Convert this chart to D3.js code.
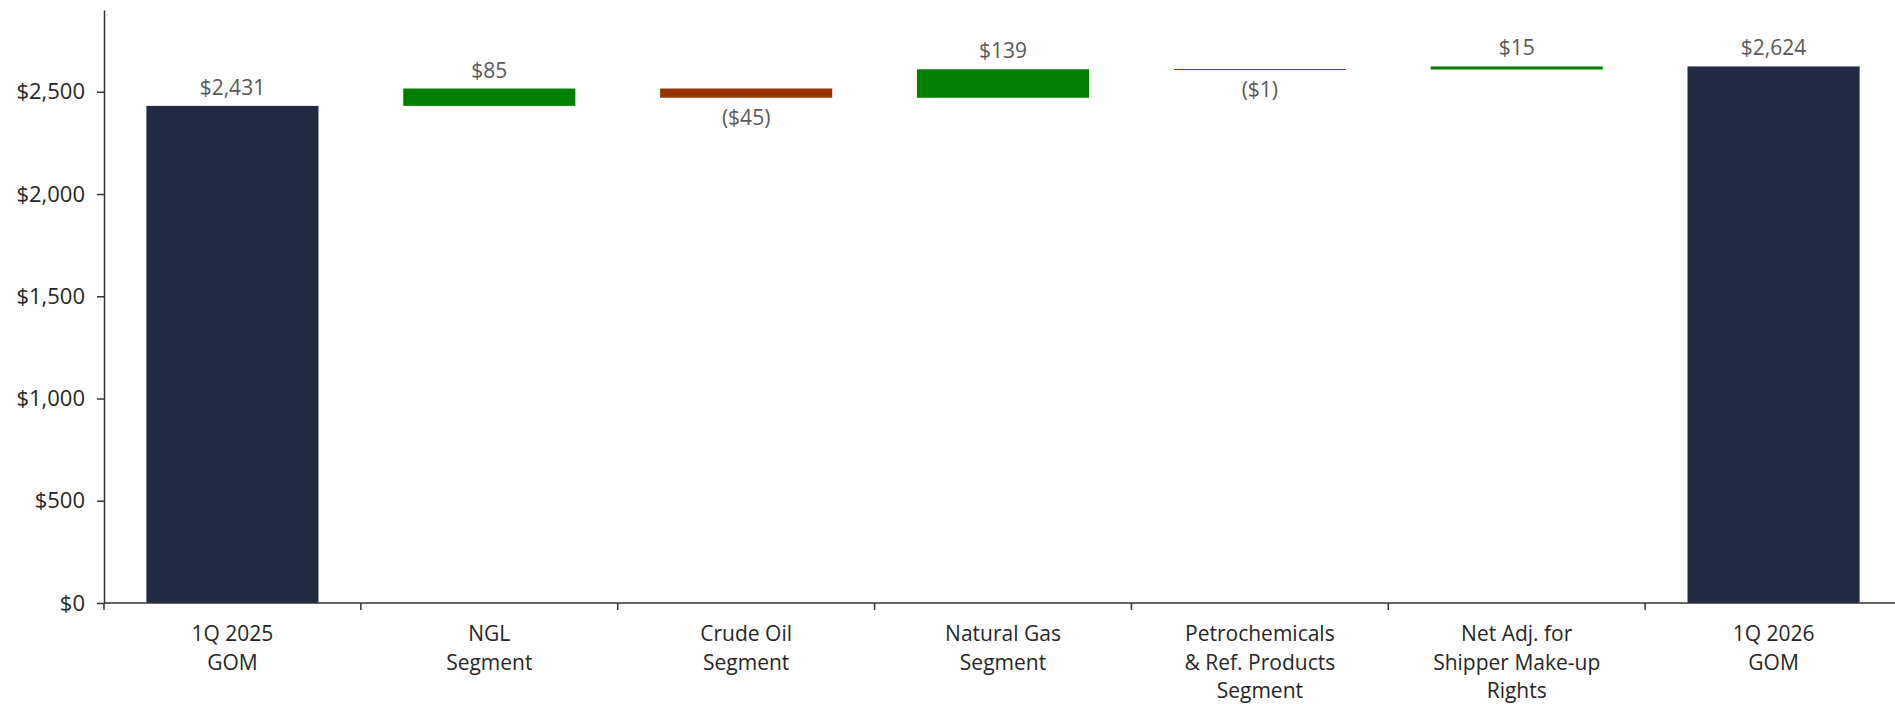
<!DOCTYPE html>
<html>
<head>
<meta charset="utf-8">
<script src="https://cdn.jsdelivr.net/npm/d3@7"></script>
<style>
  html, body { margin: 0; padding: 0; background: #ffffff; }
  svg { display: block; font-family: "Open Sans", "Liberation Sans", sans-serif; }
</style>
</head>
<body>
<svg id="chart" width="1895" height="704"></svg>
<script>
// Gross operating margin bridge, $ millions
const categories = [
  "1Q 2025\nGOM",
  "NGL\nSegment",
  "Crude Oil\nSegment",
  "Natural Gas\nSegment",
  "Petrochemicals\n& Ref. Products\nSegment",
  "Net Adj. for\nShipper Make-up\nRights",
  "1Q 2026\nGOM"
];
// "total" bars start at zero; "delta" bars float on the running total
const kinds  = ["total", "delta", "delta", "delta", "delta", "delta", "total"];
const values = [2431, 85, -45, 139, -1, 15, 2624];
const labels = ["$2,431", "$85", "($45)", "$139", "($1)", "$15", "$2,624"];
const yTicks = [0, 500, 1000, 1500, 2000, 2500];
const yMax = 2900;

const colors = { total: "#222a42", up: "#008000", down: "#993300" };

// running totals for the floating bars
let running = 0;
const bars = categories.map((c, i) => {
  let y0, y1;
  if (kinds[i] === "total") {
    y0 = 0; y1 = values[i]; running = values[i];
  } else {
    y0 = running; y1 = running + values[i]; running = y1;
  }
  const fill = kinds[i] === "total" ? colors.total : (values[i] >= 0 ? colors.up : colors.down);
  return { cat: c, y0, y1, value: values[i], label: labels[i], kind: kinds[i], fill };
});

const svg = d3.select("#chart");
const plotLeft = 104, plotRight = 1902, plotTop = 10, plotBottom = 603;

const x = d3.scaleBand()
  .domain(categories)
  .range([plotLeft, plotRight])
  .paddingInner(0.33)
  .paddingOuter(0.165);

const y = d3.scaleLinear()
  .domain([0, yMax])
  .range([plotBottom, plotTop]);

// bars (very small changes still get a hairline)
svg.append("g").selectAll("rect")
  .data(bars)
  .join("rect")
  .attr("x", d => x(d.cat))
  .attr("width", x.bandwidth())
  .attr("y", d => {
    const h = Math.abs(y(d.y0) - y(d.y1));
    return h < 1 ? Math.round(y(Math.max(d.y0, d.y1))) : y(Math.max(d.y0, d.y1));
  })
  .attr("height", d => Math.max(1, Math.abs(y(d.y0) - y(d.y1))))
  .attr("fill", d => d.fill);

// value labels: above rising bars, below falling bars
svg.append("g").selectAll("text")
  .data(bars)
  .join("text")
  .attr("x", d => x(d.cat) + x.bandwidth() / 2)
  .attr("y", d => d.value >= 0
    ? y(Math.max(d.y0, d.y1)) - 11
    : y(Math.min(d.y0, d.y1)) + 27)
  .attr("text-anchor", "middle")
  .attr("font-size", 21)
  .attr("fill", "#595959")
  .text(d => d.label);

// y axis
const yAxis = svg.append("g")
  .attr("transform", `translate(${plotLeft},0)`)
  .call(d3.axisLeft(y)
    .tickValues(yTicks)
    .tickSize(7)
    .tickSizeOuter(0)
    .tickPadding(12)
    .tickFormat(d => "$" + d3.format(",")(d)));
yAxis.select(".domain").attr("stroke", "#333").attr("stroke-width", 1.5);
yAxis.selectAll(".tick line").attr("stroke", "#333").attr("stroke-width", 1.5);
yAxis.selectAll(".tick text")
  .attr("font-size", 22)
  .attr("font-family", "Open Sans, Liberation Sans, sans-serif")
  .attr("fill", "#262626");

// x axis: baseline, boundary ticks and wrapped category names
const xAxis = svg.append("g");
xAxis.append("line")
  .attr("x1", plotLeft).attr("x2", plotRight)
  .attr("y1", plotBottom).attr("y2", plotBottom)
  .attr("stroke", "#333").attr("stroke-width", 1.5);

const step = x.step();
const boundaries = d3.range(categories.length + 1).map(i => plotLeft + i * step);
xAxis.selectAll("line.tick")
  .data(boundaries)
  .join("line")
  .attr("class", "tick")
  .attr("x1", d => d).attr("x2", d => d)
  .attr("y1", plotBottom).attr("y2", plotBottom + 7)
  .attr("stroke", "#333").attr("stroke-width", 1.5);

const catText = xAxis.selectAll("text")
  .data(categories)
  .join("text")
  .attr("x", d => x(d) + x.bandwidth() / 2)
  .attr("y", 641)
  .attr("text-anchor", "middle")
  .attr("font-size", 21)
  .attr("fill", "#262626");
catText.selectAll("tspan")
  .data(d => d.split("\n").map(line => ({ line, cx: x(d) + x.bandwidth() / 2 })))
  .join("tspan")
  .attr("x", d => d.cx)
  .attr("dy", (d, i) => i === 0 ? 0 : 28.5)
  .text(d => d.line);
</script>
</body>
</html>
